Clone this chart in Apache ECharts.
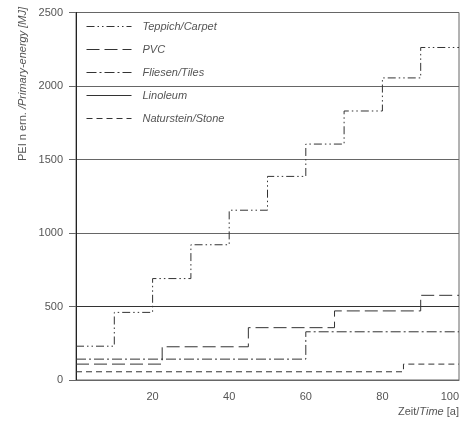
<!DOCTYPE html>
<html>
<head>
<meta charset="utf-8">
<script src="https://cdn.jsdelivr.net/npm/echarts@6/dist/echarts.min.js"></script>
<style>html,body{margin:0;padding:0;background:#fff}#c{width:473px;height:421px}</style>
</head>
<body>
<div id="c"></div>
<script>
const seriesNames = ['Teppich/Carpet', 'PVC', 'Fliesen/Tiles', 'Linoleum', 'Naturstein/Stone'];
const carpetTimes = [0, 10, 20, 30, 40, 50, 60, 70, 80, 90];
const carpetValues = [230, 460, 690, 920, 1155, 1385, 1605, 1830, 2055, 2262];
const pvcTimes = [0, 22.5, 45, 67.5, 90];
const pvcValues = [108, 226, 356, 470, 576];
const tilesTimes = [0, 60];
const tilesValues = [142, 328];
const linoleumTimes = [0];
const linoleumValues = [500];
const stoneTimes = [0, 85.5];
const stoneValues = [56, 108];
const xEnd = 100;
const xTicks = [20, 40, 60, 80, 100];
const yTicks = [0, 500, 1000, 1500, 2000, 2500];

function steps(times, values) {
  const d = times.map((t, i) => [t, values[i]]);
  d.push([xEnd, values[values.length - 1]]);
  return d;
}
const dashes = [[8, 3, 1.5, 3, 1.5, 3], [13, 5], [10, 3, 2, 3], 'solid', [6, 4]];
const data = [
  steps(carpetTimes, carpetValues),
  steps(pvcTimes, pvcValues),
  steps(tilesTimes, tilesValues),
  steps(linoleumTimes, linoleumValues),
  steps(stoneTimes, stoneValues)
];
const font = 'Liberation Sans, Arial, sans-serif';
const chart = echarts.init(document.getElementById('c'));
chart.setOption({
  animation: false,
  grid: { left: 76, right: 14, top: 12.5, bottom: 41, show: true, borderColor: '#666', borderWidth: 1, containLabel: false, outerBoundsMode: 'none' },
  legend: {
    orient: 'vertical', left: 86, top: 19.5, padding: 0, itemWidth: 45, itemHeight: 14, itemGap: 9,
    itemStyle: { opacity: 0 },
    lineStyle: { width: 1 },
    textStyle: { fontFamily: font, fontSize: 11, fontStyle: 'italic', color: '#555', padding: [0, 0, 0, 6], lineHeight: 14 },
    data: seriesNames
  },
  xAxis: {
    type: 'value', min: 0, max: xEnd, interval: 20,
    axisLine: { show: true, lineStyle: { color: '#666', width: 1 } },
    axisTick: { show: false },
    splitLine: { show: false },
    axisLabel: {
      fontFamily: font, fontSize: 11, color: '#555', margin: 11, alignMaxLabel: 'right',
      formatter: v => (xTicks.indexOf(v) >= 0 ? String(v) : '')
    }
  },
  yAxis: {
    type: 'value', min: 0, max: 2500, interval: 500,
    axisLine: { show: true, lineStyle: { color: '#222', width: 1 } },
    axisTick: { show: true, length: 7, lineStyle: { color: '#666' } },
    splitLine: { show: true, lineStyle: { color: '#666', width: 1 } },
    axisLabel: {
      fontFamily: font, fontSize: 11, color: '#555', margin: 13,
      formatter: v => (yTicks.indexOf(v) >= 0 ? String(v) : '')
    }
  },
  series: seriesNames.map((n, i) => ({
    name: n, type: 'line', step: 'end', data: data[i],
    showSymbol: false, symbol: 'none', silent: true,
    lineStyle: { color: '#333', width: 1, type: dashes[i] },
    itemStyle: { color: '#333' },
    z: 3
  })),
  graphic: [
    {
      type: 'text', x: 23, y: 84, rotation: Math.PI / 2,
      style: {
        text: '{n|PEI n ern. }{i|/Primary-energy [MJ]}',
        align: 'center', verticalAlign: 'middle',
        rich: {
          n: { fontFamily: font, fontSize: 11, fill: '#555', fontStyle: 'normal' },
          i: { fontFamily: font, fontSize: 11, fill: '#555', fontStyle: 'italic' }
        }
      }
    },
    {
      type: 'text', x: 459, y: 412,
      style: {
        text: '{n|Zeit/}{i|Time}{n| [a]}',
        align: 'right', verticalAlign: 'middle',
        rich: {
          n: { fontFamily: font, fontSize: 11, fill: '#555', fontStyle: 'normal' },
          i: { fontFamily: font, fontSize: 11, fill: '#555', fontStyle: 'italic' }
        }
      }
    }
  ]
});
</script>
</body>
</html>
